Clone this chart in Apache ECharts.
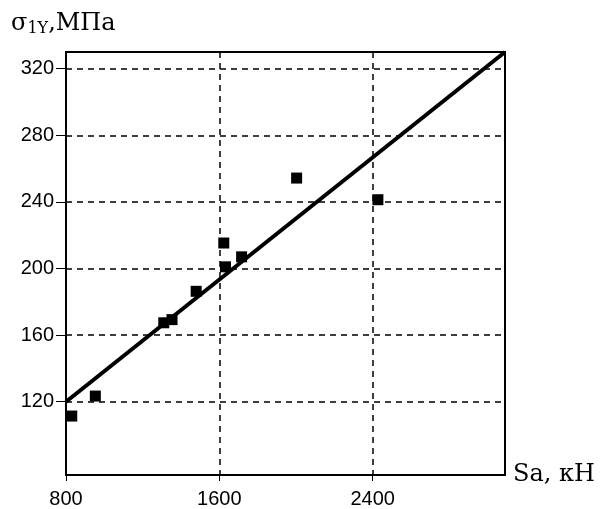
<!DOCTYPE html>
<html>
<head>
<meta charset="utf-8">
<script src="https://cdn.jsdelivr.net/npm/echarts@6/dist/echarts.min.js"></script>
<style>
    html, body { margin: 0; padding: 0; background: #fff; }
    #main { width: 600px; height: 509px; }
</style>
</head>
<body>
<div id="main"></div>
<script>
// Chart data
const xTicks = [800, 1600, 2400];
const yTicks = [120, 160, 200, 240, 280, 320];
const loadKN = [830, 953, 1310, 1353, 1479, 1623, 1632, 1716, 2003, 2427];
const stressMPa = [111.4, 123.4, 167.4, 169.3, 186.3, 215.3, 201, 207, 254.3, 241.3];
const fitX = [800, 3090];
const fitY = [120, 330];

const chart = echarts.init(document.getElementById('main'));

const points = loadKN.map((x, i) => [x, stressMPa[i]]);
const fitLine = fitX.map((x, i) => [x, fitY[i]]);

const tickFont = { color: '#000', fontFamily: 'Liberation Sans', fontSize: 20, formatter: v => String(v) };
const dashed = { color: '#000', width: 1.5, type: [6, 5] };

const option = {
    animation: false,
    title: {
        text: '{s|σ}{sub|1Y}{s|,МПа}',
        left: 6,
        top: 6,
        textStyle: {
            rich: {
                s: { fontFamily: 'DejaVu Serif', fontSize: 24, fontWeight: 'normal', color: '#000' },
                sub: { fontFamily: 'DejaVu Serif', fontSize: 16, fontWeight: 'normal', color: '#000', verticalAlign: 'bottom', padding: [10, 0, 0, 0] }
            }
        }
    },
    grid: {
        left: 66, right: 95, top: 52, bottom: 34,
        show: true, borderColor: '#000', borderWidth: 2
    },
    xAxis: {
        type: 'value',
        min: 800,
        max: 3090,
        name: 'Sa, кН',
        nameLocation: 'end',
        nameGap: 8,
        nameTextStyle: { fontFamily: 'DejaVu Serif', fontSize: 24, color: '#000', verticalAlign: 'middle', padding: [26, 0, 0, 0] },
        axisLine: { lineStyle: { color: '#000', width: 2 } },
        axisTick: { show: true, length: 6, customValues: xTicks, lineStyle: { color: '#000' } },
        axisLabel: { customValues: xTicks, margin: 14, ...tickFont },
        splitLine: { show: true, lineStyle: dashed }
    },
    yAxis: {
        type: 'value',
        min: 76,
        max: 330,
        axisLine: { show: true, lineStyle: { color: '#000', width: 2 } },
        axisTick: { show: true, length: 10, customValues: yTicks, lineStyle: { color: '#000' } },
        axisLabel: { customValues: yTicks, margin: 12, ...tickFont },
        splitLine: { show: true, lineStyle: dashed }
    },
    series: [
        {
            type: 'scatter',
            data: points,
            symbol: 'rect',
            symbolSize: 11,
            itemStyle: { color: '#000', opacity: 1 }
        },
        {
            type: 'line',
            data: fitLine,
            showSymbol: false,
            lineStyle: { color: '#000', width: 4 }
        }
    ]
};

chart.setOption(option);
</script>
</body>
</html>
